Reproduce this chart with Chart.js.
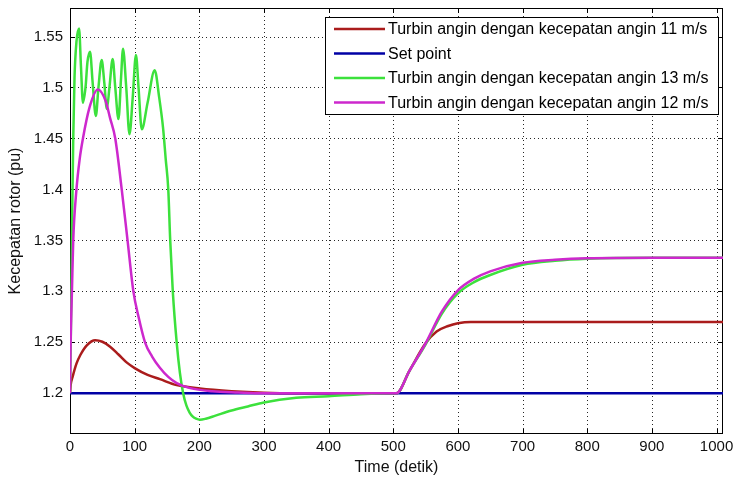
<!DOCTYPE html>
<html><head><meta charset="utf-8">
<script src="https://cdn.jsdelivr.net/npm/chart.js@4/dist/chart.umd.min.js"></script>
<style>html,body{margin:0;padding:0;background:#fff;}#wrap{width:734px;height:479px;}</style>
</head><body><div id="wrap"><canvas id="c" width="734" height="479"></canvas></div>
<script>
// ---- data ----
const xTickValues = [0,100,200,300,400,500,600,700,800,900,1000];
const yTickValues = [1.2,1.25,1.3,1.35,1.4,1.45,1.5,1.55];
const seriesLabels = [
  'Turbin angin dengan kecepatan angin 11 m/s',
  'Set point',
  'Turbin angin dengan kecepatan angin 13 m/s',
  'Turbin angin dengan kecepatan angin 12 m/s'
];
const tWind11 = [0,1,4,10,16,26,39,50,62,75,88,100,120,139,165,201,250,300,350,505,525,550,567,585,600,620,1010];
const vWind11 = [1.2,1.208,1.216,1.229,1.2375,1.247,1.252,1.2505,1.2457,1.238,1.230,1.2247,1.218,1.2138,1.208,1.2046,1.202,1.2005,1.2,1.2,1.222,1.249,1.2605,1.266,1.2687,1.27,1.27];
const tSetPoint = [0,1010];
const vSetPoint = [1.2,1.2];
const tWind13 = [0,2,3.5,5,7,10,14,17,20,24,27,31,35,40,44,49,53,57,61,66,70,75,79,82,87,92,97,102,106,111,120,131,138,144,148,152,155,159,165,170,175,180,185,190,195,201,210,225,250,275,300,350,400,450,500,505,525,550,575,600,625,650,700,750,800,900,1010];
const vWind13 = [1.2,1.29,1.38,1.45,1.51,1.545,1.558,1.52,1.485,1.50,1.525,1.535,1.505,1.472,1.50,1.527,1.505,1.479,1.50,1.528,1.50,1.469,1.51,1.538,1.50,1.454,1.49,1.532,1.50,1.459,1.485,1.517,1.49,1.46,1.43,1.40,1.35,1.30,1.25,1.22,1.20,1.188,1.181,1.177,1.175,1.174,1.175,1.178,1.183,1.187,1.191,1.1955,1.197,1.199,1.2,1.2,1.222,1.248,1.278,1.298,1.309,1.316,1.326,1.330,1.332,1.333,1.333];
const tWind12 = [0,1,3,5,10,15,20,30,43,55,62,70,80,89,98,106,116,127,139,152,165,186,220,260,300,505,525,550,575,600,625,650,700,750,800,900,1010];
const vWind12 = [1.2,1.25,1.30,1.35,1.40,1.43,1.45,1.48,1.498,1.487,1.47,1.45,1.40,1.35,1.30,1.275,1.25,1.236,1.225,1.216,1.21,1.205,1.202,1.2008,1.2,1.2,1.222,1.249,1.280,1.301,1.3124,1.3196,1.328,1.331,1.3325,1.333,1.333];

// ---- chart ----
const FONT = "'Liberation Sans', Arial, Helvetica, sans-serif";
const colors = ['rgb(170,28,28)','rgb(0,0,165)','rgb(60,225,60)','rgb(205,40,205)'];
const toPts = (t,v) => t.map((x,i)=>({x:x,y:v[i]}));
const series = [[tWind11,vWind11],[tSetPoint,vSetPoint],[tWind13,vWind13],[tWind12,vWind12]];
const drawOrder = [4,3,2,1];

const frame = {
  id:'frame',
  beforeDatasetsDraw(chart){
    const {ctx, chartArea:a, scales:{x,y}} = chart;
    ctx.save();
    ctx.strokeStyle='rgba(0,0,0,0.85)';
    ctx.lineWidth=1;
    ctx.setLineDash([1,3]);
    ctx.beginPath();
    xTickValues.forEach(v=>{const p=Math.round(x.getPixelForValue(v))+0.5; if(p<a.left+2||p>a.right-2)return; ctx.moveTo(p,a.top); ctx.lineTo(p,a.bottom);});
    yTickValues.forEach(v=>{const p=Math.round(y.getPixelForValue(v))+0.5; if(p<a.top+2||p>a.bottom-2)return; ctx.moveTo(a.left,p); ctx.lineTo(a.right,p);});
    ctx.stroke();
    ctx.setLineDash([]);
    ctx.strokeStyle='#000';
    ctx.beginPath();
    const L=5;
    xTickValues.forEach(v=>{const p=Math.round(x.getPixelForValue(v))+0.5; ctx.moveTo(p,a.bottom); ctx.lineTo(p,a.bottom-L); ctx.moveTo(p,a.top); ctx.lineTo(p,a.top+L);});
    yTickValues.forEach(v=>{const p=Math.round(y.getPixelForValue(v))+0.5; ctx.moveTo(a.left,p); ctx.lineTo(a.left+L,p); ctx.moveTo(a.right,p); ctx.lineTo(a.right-L,p);});
    ctx.stroke();
    ctx.strokeRect(Math.round(a.left)+0.5, Math.round(a.top)+0.5, Math.round(a.right-a.left)-1, Math.round(a.bottom-a.top)-1);
    ctx.restore();
  }
};

const legendBox = {
  id:'legendBox',
  afterDatasetsDraw(chart){
    const {ctx, chartArea:a} = chart;
    const right = a.right-5, top = a.top+9, w = 393, rowH = 24.5, h = 97;
    const left = right - w;
    ctx.save();
    ctx.fillStyle='#fff';
    ctx.fillRect(left,top,w,h);
    ctx.strokeStyle='#000'; ctx.lineWidth=1;
    ctx.strokeRect(Math.round(left)+0.5,Math.round(top)+0.5,w,h);
    ctx.font = "16px " + FONT;
    ctx.textBaseline='middle';
    ctx.fillStyle='#000';
    chart.data.datasets.forEach((ds,i)=>{
      const cy = top + 12 + i*rowH;
      ctx.strokeStyle = ds.borderColor; ctx.lineWidth = 2.5;
      ctx.beginPath(); ctx.moveTo(left+9,cy); ctx.lineTo(left+60,cy); ctx.stroke();
      ctx.fillText(ds.label, left+63, cy+1);
    });
    ctx.restore();
  }
};

new Chart(document.getElementById('c'), {
  type:'line',
  data:{ datasets: series.map((s,i)=>({
    label: seriesLabels[i],
    data: toPts(s[0],s[1]),
    borderColor: colors[i],
    backgroundColor: colors[i],
    borderWidth: 2.5,
    pointRadius: 0,
    fill:false,
    cubicInterpolationMode:'monotone',
    order: drawOrder[i]
  }))},
  options:{
    responsive:false,
    animation:false,
    devicePixelRatio:1,
    layout:{padding:{left:0,right:11,top:8,bottom:0}},
    plugins:{legend:{display:false}, tooltip:{enabled:false}},
    scales:{
      x:{
        type:'linear', min:0, max:1010,
        afterBuildTicks(s){ s.ticks = xTickValues.map(v=>({value:v})); },
        afterFit(s){ s.height = 45; s.paddingLeft = 0; s.paddingRight = 0; },
        grid:{display:false, drawTicks:false}, border:{display:false},
        ticks:{ font:{family:FONT,size:15}, color:'#111', padding:4, maxRotation:0, autoSkip:false, callback:v=>String(v) },
        title:{display:true, text:'Time (detik)', font:{family:FONT,size:16}, color:'#111', padding:{top:0,bottom:2}}
      },
      y:{
        type:'linear', min:1.16, max:1.578,
        afterBuildTicks(s){ s.ticks = yTickValues.map(v=>({value:v})); },
        afterFit(s){ s.width = 70; s.paddingTop = 0; s.paddingBottom = 0; },
        grid:{display:false, drawTicks:false}, border:{display:false},
        ticks:{ font:{family:FONT,size:15}, color:'#111', padding:7, autoSkip:false, callback:v=>String(v) },
        title:{display:true, text:'Kecepatan rotor (pu)', font:{family:FONT,size:16}, color:'#111', padding:{top:6,bottom:0}}
      }
    }
  },
  plugins:[frame, legendBox]
});
</script></body></html>
